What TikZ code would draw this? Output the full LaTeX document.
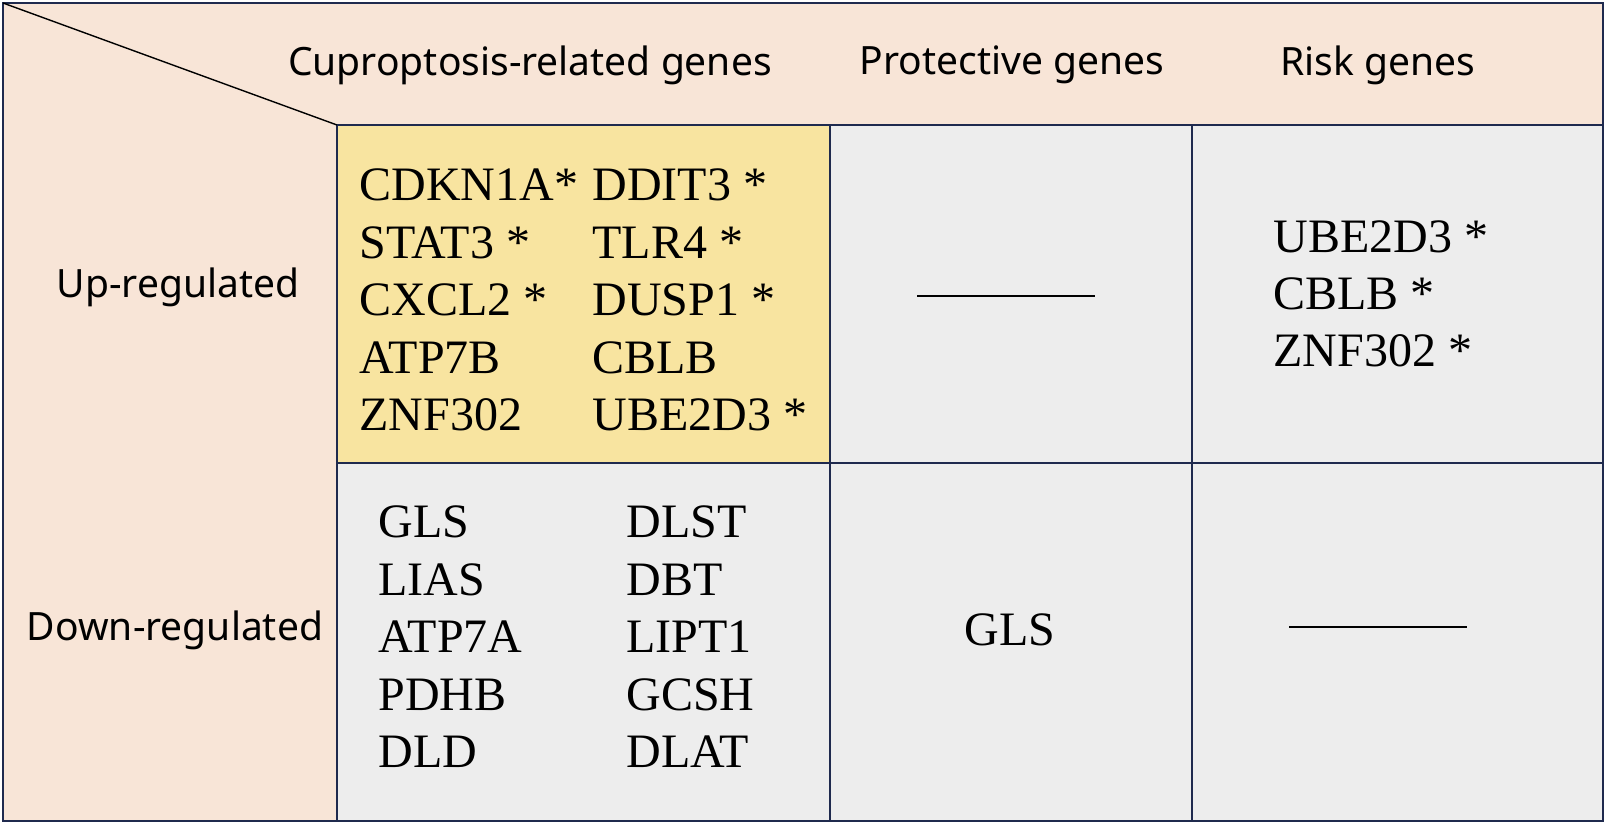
\documentclass[tikz,border=0pt]{standalone}
\usepackage{fontspec}
\setmainfont{Liberation Serif}
\newfontfamily\hdr{Noto Sans}
\definecolor{peach}{HTML}{F8E5D7}
\definecolor{yel}{HTML}{F8E4A0}
\definecolor{gry}{HTML}{EDEDED}
\definecolor{navy}{HTML}{1F2A4E}
\tikzset{
 gene/.style={anchor=west,inner sep=0pt,font=\fontsize{24}{24}\selectfont},
 head/.style={inner sep=0pt,font=\hdr\fontsize{19.5}{19.5}\selectfont},
 grid/.style={draw=navy,line width=1pt}
}
\begin{document}
\begin{tikzpicture}[x=0.5pt,y=-0.5pt]
\fill[white] (0,0) rectangle (1606,824);
\fill[peach] (3,3) rectangle (1603,125);
\fill[peach] (3,3) rectangle (337,821);
\fill[yel] (337,125) rectangle (830,463);
\fill[gry] (830,125) rectangle (1603,821);
\fill[gry] (337,463) rectangle (830,821);
\draw[grid] (337,125) -- (1603,125);
\draw[grid] (337,463) -- (1603,463);
\draw[grid] (337,125) -- (337,821);
\draw[grid] (830,125) -- (830,821);
\draw[grid] (1192,125) -- (1192,821);
\draw[grid,line width=1.2pt] (3,3) rectangle (1603,821);
\draw[black,line width=0.7pt] (3,3) -- (337,125);
\node[head] (h1) at (530,65) {Cuproptosis-related genes};
\node[head] (h2) at (1012,65) {Protective genes};
\node[head] (h3) at (1378,65) {Risk genes};
\node[head] (r1) at (178,287) {Up-regulated};
\node[head] (r2) at (175,630) {Down-regulated};
\foreach \t [count=\i] in {CDKN1A*,STAT3 *,CXCL2 *,ATP7B,ZNF302}
  \node[gene] (a\i) at (359,{185+57.5*(\i-1)}) {\t};
\foreach \t [count=\i] in {DDIT3 *,TLR4 *,DUSP1 *,CBLB,UBE2D3 *}
  \node[gene] (b\i) at (592,{185+57.5*(\i-1)}) {\t};
\foreach \t [count=\i] in {GLS,LIAS,ATP7A,PDHB,DLD}
  \node[gene] (c\i) at (378,{522+57.5*(\i-1)}) {\t};
\foreach \t [count=\i] in {DLST,DBT,LIPT1,GCSH,DLAT}
  \node[gene] (d\i) at (626,{522+57.5*(\i-1)}) {\t};
\foreach \t [count=\i] in {UBE2D3 *,CBLB *,ZNF302 *}
  \node[gene] (e\i) at (1273,{237+57*(\i-1)}) {\t};
\node[gene,anchor=center] (g) at (1010,630) {GLS};
\coordinate (p1) at (917,296); \coordinate (p2) at (1095,296);
\coordinate (q1) at (1289,627); \coordinate (q2) at (1467,627);
\draw[line width=0.8pt] (p1) -- (p2);
\draw[line width=0.8pt] (q1) -- (q2);
\pgfresetboundingbox
\useasboundingbox (0,0) rectangle (1606,824);
\end{tikzpicture}
\end{document}
